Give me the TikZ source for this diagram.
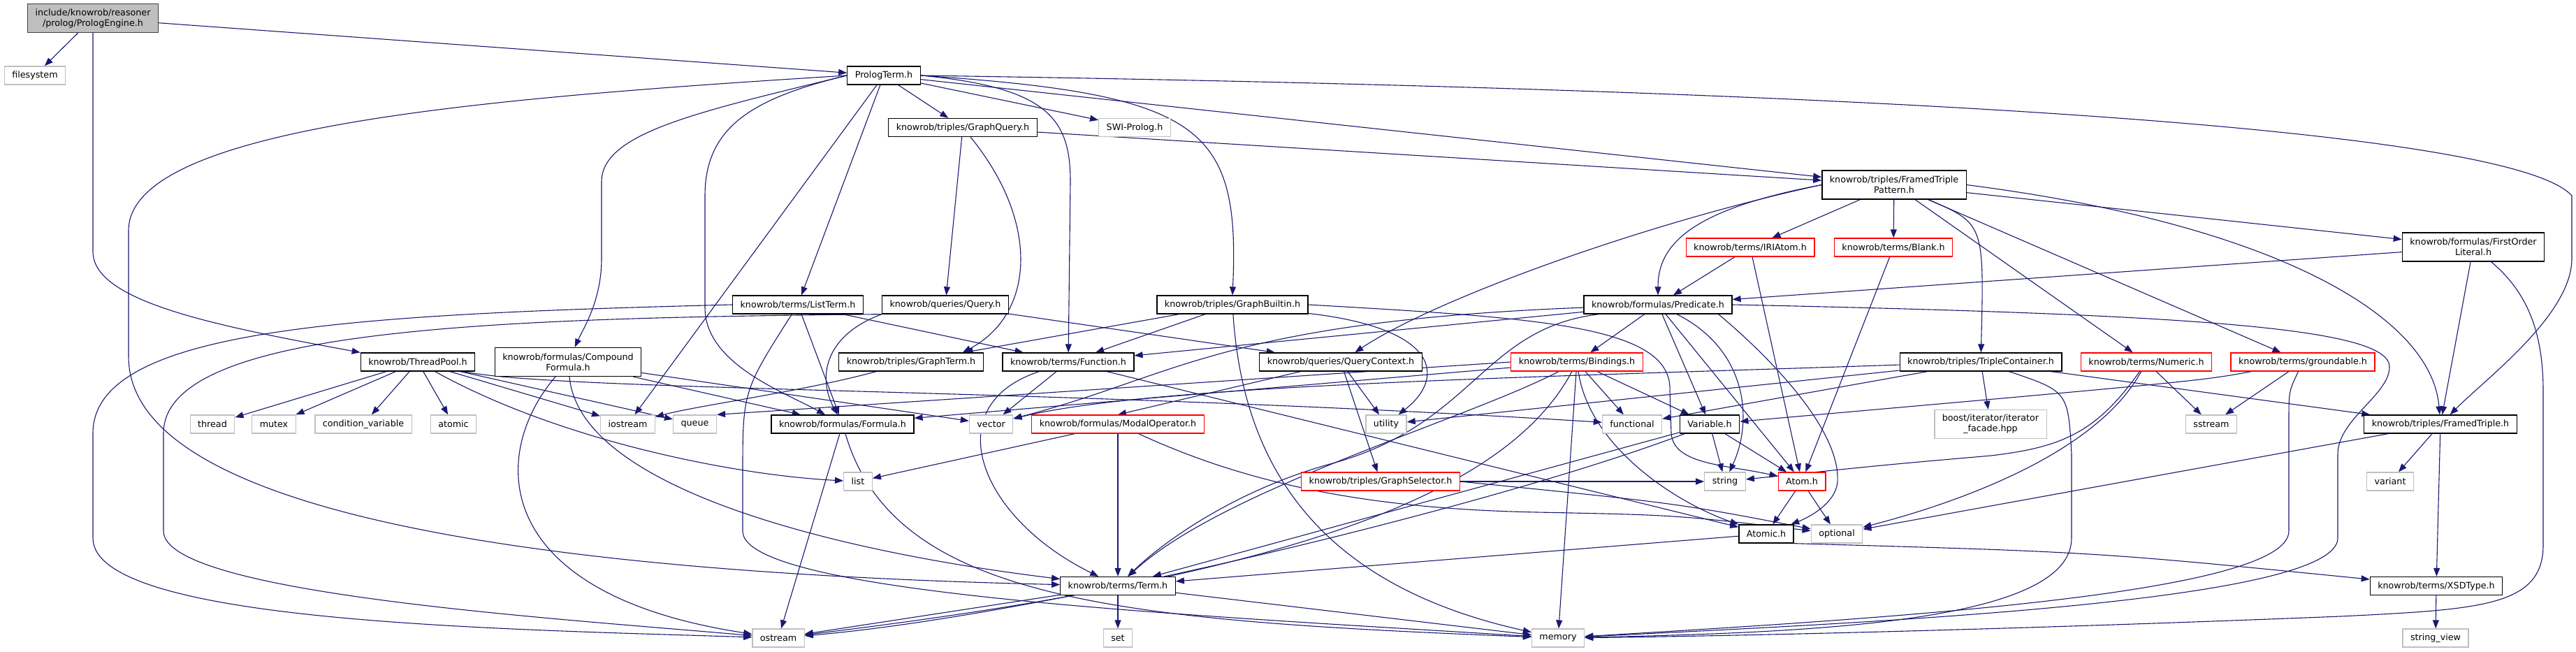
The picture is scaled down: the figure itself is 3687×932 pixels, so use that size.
\documentclass[tikz,border=0pt]{standalone}
\usepackage{fontspec}
\setmainfont{DejaVu Sans}
\usepackage{xcolor}
\usetikzlibrary{arrows.meta}
\definecolor{edgeblue}{HTML}{191970}
\definecolor{sysgray}{HTML}{BFBFBF}
\definecolor{rootgray}{HTML}{BFBFBF}
\definecolor{rootedge}{HTML}{404040}
\pgfdeclarelayer{edges}
\pgfsetlayers{edges,main}

\begin{document}
\begin{tikzpicture}[x=1pt, y=-1pt,
    box/.style={draw, rectangle, fill=white, line width=1.3pt, inner xsep=11pt, inner ysep=0pt, minimum height=26pt, align=center, font={\fontsize{12.7}{15}\selectfont}},
    hdr/.style={box, draw=black},
    sys/.style={box, draw=sysgray},
    trunc/.style={box, draw=red},
    root/.style={box, draw=rootedge, fill=rootgray},
    tall/.style={minimum height=41pt},
    arr/.style={-{Triangle[length=12pt, width=9pt]}, draw=edgeblue, line width=1.1pt}
]
\useasboundingbox (0,0) rectangle (3687,932);

\node[root, tall] (PE)   at (133,26)    {include/knowrob/reasoner\\/prolog/PrologEngine.h};
\node[sys]   (FS)    at (50,108)    {filesystem};
\node[hdr]   (PT)    at (1265,108)  {PrologTerm.h};
\node[hdr]   (GQ)    at (1378,182.5) {knowrob/triples/GraphQuery.h};
\node[sys]   (SWI)   at (1624,182.5) {SWI-Prolog.h};
\node[hdr, tall] (FTP) at (2711,264.5) {knowrob/triples/FramedTriple\\Pattern.h};
\node[trunc] (IRI)   at (2505,354)  {knowrob/terms/IRIAtom.h};
\node[trunc] (BLK)   at (2710,354)  {knowrob/terms/Blank.h};
\node[hdr, tall] (FOL) at (3540,353.5) {knowrob/formulas/FirstOrder\\Literal.h};
\node[hdr]   (LT)    at (1142,436)  {knowrob/terms/ListTerm.h};
\node[hdr]   (QRY)   at (1353,436)  {knowrob/queries/Query.h};
\node[hdr]   (GB)    at (1764,436)  {knowrob/triples/GraphBuiltin.h};
\node[hdr]   (PRED)  at (2373,436)  {knowrob/formulas/Predicate.h};
\node[hdr]   (TP)    at (598,518)   {knowrob/ThreadPool.h};
\node[hdr, tall] (CF) at (813,518)  {knowrob/formulas/Compound\\Formula.h};
\node[hdr]   (GT)    at (1304,518)  {knowrob/triples/GraphTerm.h};
\node[hdr]   (FN)    at (1529,518)  {knowrob/terms/Function.h};
\node[hdr]   (QC)    at (1919,518)  {knowrob/queries/QueryContext.h};
\node[trunc] (BIND)  at (2257,518)  {knowrob/terms/Bindings.h};
\node[hdr]   (TC)    at (2835,518)  {knowrob/triples/TripleContainer.h};
\node[trunc] (NUM)   at (3072,518)  {knowrob/terms/Numeric.h};
\node[trunc] (GRD)   at (3296,518)  {knowrob/terms/groundable.h};
\node[sys]   (THR)   at (304,607)   {thread};
\node[sys]   (MTX)   at (392,607)   {mutex};
\node[sys]   (CV)    at (520,607)   {condition\_variable};
\node[sys]   (ATM)   at (649,607)   {atomic};
\node[sys]   (IO)    at (898.5,607) {iostream};
\node[sys]   (QUE)   at (994.5,607) {queue};
\node[hdr]   (FM)    at (1206,607)  {knowrob/formulas/Formula.h};
\node[sys]   (VEC)   at (1418.6,607) {vector};
\node[trunc] (MODAL) at (1600,607)  {knowrob/formulas/ModalOperator.h};
\node[sys]   (UTIL)  at (1984,607)  {utility};
\node[sys]   (FUNC)  at (2336,607)  {functional};
\node[hdr]   (VAR)   at (2447,607)  {Variable.h};
\node[sys, tall] (BOOST) at (2849,607) {boost/iterator/iterator\\\_facade.hpp};
\node[sys]   (SST)   at (3165,607)  {sstream};
\node[hdr]   (FT)    at (3493,607)  {knowrob/triples/FramedTriple.h};
\node[sys]   (LIST)  at (1228,689)  {list};
\node[trunc] (GS)    at (1976,689)  {knowrob/triples/GraphSelector.h};
\node[sys]   (STR)   at (2469,689)  {string};
\node[trunc] (ATOM)  at (2579,689)  {Atom.h};
\node[sys]   (VARIANT) at (3421,689) {variant};
\node[hdr]   (ATOMIC) at (2528,764) {Atomic.h};
\node[sys]   (OPT)   at (2629,764)  {optional};
\node[hdr]   (TERM)  at (1600,838.5) {knowrob/terms/Term.h};
\node[hdr]   (XSD)   at (3487,838.5) {knowrob/terms/XSDType.h};
\node[sys]   (OST)   at (1114,913)  {ostream};
\node[sys]   (SET)   at (1600,913)  {set};
\node[sys]   (MEM)   at (2230,913)  {memory};
\node[sys]   (SV)    at (3486,913)  {string\_view};

\begin{pgfonlayer}{edges}
\draw[arr] (PE) -- (FS);
\draw[arr] (PE) -- (PT);
\draw[arr] (PE.south) -- (133,360) .. controls (133,430) and (300,465) .. (TP.north west);
\draw[arr] (PT) -- (GQ);
\draw[arr] (PT) -- (SWI);
\draw[arr] (PT) -- (FTP);
\draw[arr] (PT.east) .. controls (2800,130) and (3600,190) .. (3681,280) -- (3681,370) .. controls (3681,450) and (3560,540) .. (FT);
\draw[arr] (PT.east) .. controls (1720,135) and (1775,180) .. (GB.north);
\draw[arr] (PT.east) .. controls (1500,125) and (1532,170) .. (1532,260) -- (FN);
\draw[arr] (PT) -- (LT);
\draw[arr] (PT) -- (IO);
\draw[arr] (PT.west) .. controls (1000,160) and (861,190) .. (861,260) -- (861,370) .. controls (861,430) and (835,470) .. (CF);
\draw[arr] (PT.west) .. controls (1080,140) and (1009,180) .. (1009,280) -- (1009,440) .. controls (1009,520) and (1120,560) .. (FM);
\draw[arr] (PT.west) .. controls (700,140) and (184,180) .. (184,330) -- (184,510) .. controls (184,740) and (800,820) .. (TERM);
\draw[arr] (GQ) -- (FTP);
\draw[arr] (GQ) -- (QRY);
\draw[arr] (GQ) .. controls (1490,320) and (1480,450) .. ([xshift=-30pt]GT.north east);
\draw[arr] (TP) -- (THR);
\draw[arr] (TP) -- (MTX);
\draw[arr] (TP) -- (CV);
\draw[arr] (TP) -- (ATM);
\draw[arr] (TP) -- (IO);
\draw[arr] (TP) -- (QUE);
\draw[arr] (TP) .. controls (800,630) and (1050,680) .. (LIST);
\draw[arr] (TP) .. controls (800,560) and (1500,555) .. (FUNC);
\draw[arr] (CF) -- (FM);
\draw[arr] (CF) -- (VEC);
\draw[arr] (CF) .. controls (700,650) and (700,850) .. (OST);
\draw[arr] (CF) .. controls (830,700) and (1200,790) .. (TERM);
\draw[arr] (LT) -- (FN);
\draw[arr] (LT) -- (FM);
\draw[arr] (LT.west) .. controls (500,450) and (133,470) .. (133,620) -- (133,770) .. controls (133,890) and (700,900) .. (OST);
\draw[arr] (LT) .. controls (1063,560) .. (1063,680) -- (1063,760) .. controls (1063,850) and (1700,880) .. (MEM);
\draw[arr] (QRY) -- (QC);
\draw[arr] (QRY.south west) .. controls (1180,480) and (1170,540) .. (FM);
\draw[arr] (QRY.south west) .. controls (700,455) and (234,470) .. (234,620) -- (234,760) .. controls (234,850) and (800,885) .. (OST);
\draw[arr] (GB) -- (GT);
\draw[arr] (GB) -- (FN);
\draw[arr] (GB) .. controls (2060,470) and (2070,540) .. (UTIL);
\draw[arr] (GB) .. controls (1780,680) and (1900,840) .. (MEM);
\draw[arr] (GB.east) .. controls (2200,455) and (2395,465) .. (2390,560) -- (2392,620) .. controls (2395,665) and (2470,665) .. (ATOM);
\draw[arr] (GT) .. controls (1150,560) and (1000,580) .. (IO);
\draw[arr] (FN) .. controls (1340,580) and (1400,740) .. (TERM);
\draw[arr] (FN) -- (VEC);
\draw[arr] (FN) -- (ATOMIC);
\draw[arr] (QC) -- (UTIL);
\draw[arr] (QC) -- (GS);
\draw[arr] (QC) -- (MODAL.north);
\draw[arr] (BIND) -- (FM);
\draw[arr] (BIND.west) -- (QUE.north east);
\draw[arr] (BIND) -- (FUNC);
\draw[arr] (BIND) -- (VAR);
\draw[arr] (BIND) -- (MEM);
\draw[arr] (BIND) .. controls (2100,600) and (1750,700) .. (TERM);
\draw[arr] (BIND) .. controls (2150,720) and (1800,830) .. (OST);
\draw[arr] (BIND) .. controls (2275,640) and (2400,720) .. (ATOMIC);
\draw[arr] (PRED) -- (FN);
\draw[arr] (PRED) .. controls (1750,460) and (1680,540) .. (VEC);
\draw[arr] (PRED) -- (BIND);
\draw[arr] ([xshift=22pt]PRED.south west) .. controls (2120,470) and (2110,610) .. (1900,665) .. controls (1760,705) and (1660,780) .. (TERM);
\draw[arr] (PRED) -- (VAR);
\draw[arr] (PRED) .. controls (2500,500) and (2510,600) .. (STR);
\draw[arr] (PRED) -- (ATOM);
\draw[arr] ([xshift=-20pt]PRED.south east) .. controls (2520,500) and (2635,610) .. (2630,690) .. controls (2627,720) and (2590,740) .. (ATOMIC);
\draw[arr] (PRED.east) .. controls (3150,450) and (3420,470) .. (3420,525) .. controls (3420,565) and (3346,600) .. (3346,650) -- (3346,770) .. controls (3346,860) and (2700,890) .. (MEM);
\draw[arr] (FTP) -- (FOL);
\draw[arr] (FTP) -- (IRI);
\draw[arr] (FTP) -- (BLK);
\draw[arr] (FTP.west) .. controls (2420,300) and (2373,350) .. (PRED);
\draw[arr] (FTP.west) .. controls (2350,320) and (2050,430) .. (QC);
\draw[arr] (FTP) .. controls (2840,320) .. (TC);
\draw[arr] (FTP) -- (NUM);
\draw[arr] (FTP) -- (GRD);
\draw[arr] (FTP.east) .. controls (3250,320) and (3480,450) .. (FT);
\draw[arr] (FOL) -- (PRED);
\draw[arr] (FOL) -- (FT);
\draw[arr] (FOL) .. controls (3620,420) and (3640,480) .. (3640,560) -- (3640,780) .. controls (3640,868) and (3550,872) .. (3350,882) .. controls (2900,900) and (2500,910) .. (MEM);
\draw[arr] (IRI) -- (PRED);
\draw[arr] (IRI) -- (ATOM);
\draw[arr] (BLK) -- (ATOM);
\draw[arr] (TC) -- (FT);
\draw[arr] (TC) -- (BOOST);
\draw[arr] (TC) .. controls (2960,560) .. (2965,650) -- (2965,770) .. controls (2965,890) and (2600,905) .. (MEM);
\draw[arr] (TC) .. controls (2200,540) and (1650,550) .. (VEC);
\draw[arr] (TC) -- (UTIL);
\draw[arr] (TC) -- (FUNC);
\draw[arr] (NUM) -- (SST);
\draw[arr] (NUM) .. controls (3000,620) and (2950,640) .. (2850,652) .. controls (2700,665) .. (STR);
\draw[arr] (NUM) .. controls (3000,650) and (2800,720) .. (OPT);
\draw[arr] (GRD) -- (SST);
\draw[arr] (GRD) .. controls (3150,545) .. (VAR);
\draw[arr] (GRD) .. controls (3276,560) .. (3276,600) -- (3276,760) .. controls (3276,850) and (2700,885) .. (MEM);
\draw[arr] (MODAL) -- (LIST);
\draw[arr] (MODAL) -- (TERM);
\draw[arr] (MODAL) .. controls (1780,690) and (1950,728) .. (2200,733) .. controls (2400,737) .. (OPT);
\draw[arr] (GS) -- (STR);
\draw[arr] (GS.east) .. controls (2400,720) .. (OPT);
\draw[arr] (VAR) -- (STR);
\draw[arr] (VAR) -- (ATOM);
\draw[arr] (VAR) -- (TERM);
\draw[arr] (VAR) .. controls (2150,720) and (1500,880) .. (OST);
\draw[arr] (ATOM) -- (ATOMIC);
\draw[arr] (ATOM) -- (OPT);
\draw[arr] (ATOMIC) -- (TERM);
\draw[arr] (ATOMIC.south east) .. controls (3000,790) .. (XSD);
\draw[arr] (FM) -- (OST);
\draw[arr] (FM) .. controls (1280,860) and (1600,888) .. (MEM);
\draw[arr] (TERM) -- (SET);
\draw[arr] (TERM) -- (MEM);
\draw[arr] (TERM) -- (OST);
\draw[arr] (FT) -- (VARIANT);
\draw[arr] (FT) -- (XSD);
\draw[arr] (FT) -- (OPT);
\draw[arr] (XSD) -- (SV);
\end{pgfonlayer}
\end{tikzpicture}
\end{document}
